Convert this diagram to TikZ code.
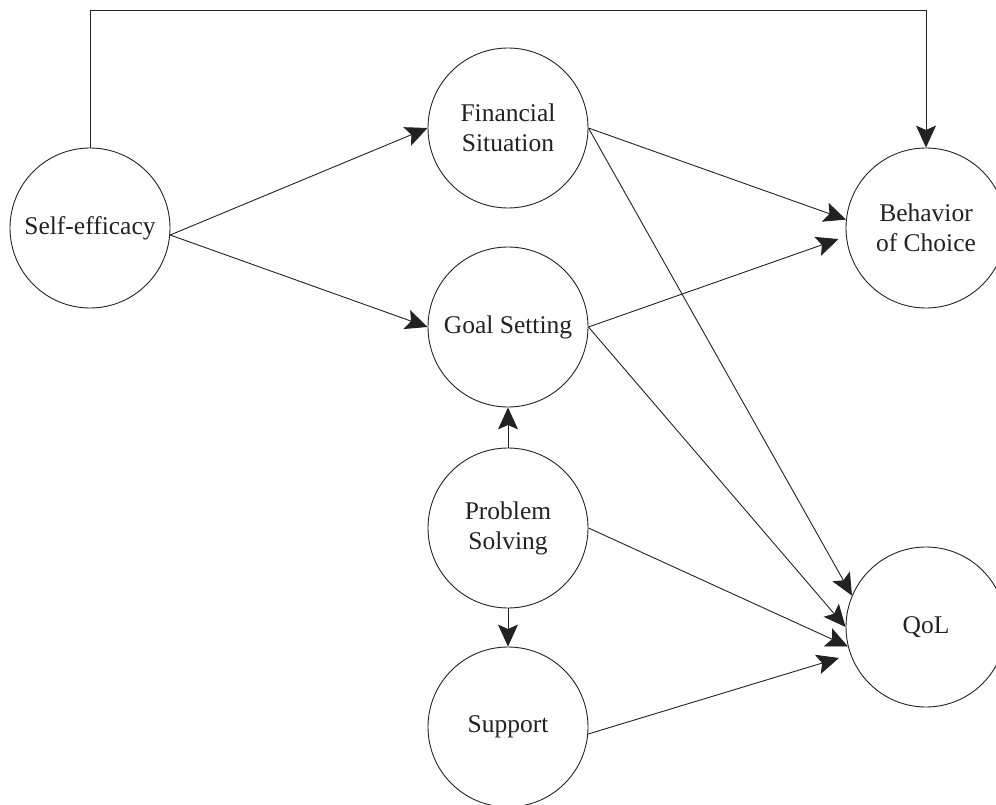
\documentclass[tikz,border=0pt]{standalone}
\usepackage{fontspec}
\setmainfont{Liberation Serif}
\usetikzlibrary{arrows.meta}
\definecolor{ink}{HTML}{222222}
\begin{document}
\begin{tikzpicture}[x=1pt,y=-1pt,
  construct/.style={circle,draw=ink,line width=0.9pt,minimum size=160pt,inner sep=0pt,
    text=ink,align=center,font=\fontsize{25.5}{30}\selectfont},
  link/.style={draw=ink,line width=0.9pt,-{Stealth[length=22pt,width=20pt,inset=4.5pt]}}]
\useasboundingbox (0,0) rectangle (996,805);

\node[construct] (self)  at (90,228)  {Self-efficacy};
\node[construct] (fin)   at (508,128) {Financial\\Situation};
\node[construct] (goal)  at (508,327) {Goal Setting};
\node[construct] (prob)  at (508,528) {Problem\\Solving};
\node[construct] (supp)  at (508,727) {Support};
\node[construct] (behav) at (926,228) {Behavior\\of Choice};
\node[construct] (qol)   at (926,627) {QoL};

\coordinate (turnL) at (90,10);

% direct effect of self-efficacy on behaviour, routed over the top
\draw[link] (self.north) -- (turnL) -| (behav.north);

\draw[link] (self.-5) -- (fin.west);
\draw[link] (self.-5) -- (goal.west);

\draw[link] (fin.east) -- (behav.174);
\draw[link] (fin.east) -- (qol.157);

\draw[link,shorten >=8pt] (goal.east) -- (behav.186);
\draw[link] (goal.east) -- (qol.180);

\draw[link] (prob.north) -- (goal.south);
\draw[link] (prob.south) -- (supp.north);
\draw[link] (prob.east) -- (qol.194);

\draw[link,shorten >=12pt] (supp.-5) -- (qol.200);
\end{tikzpicture}
\end{document}
